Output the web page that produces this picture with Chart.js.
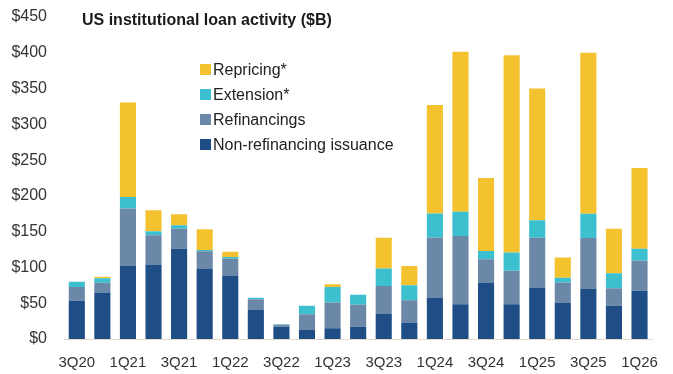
<!DOCTYPE html>
<html>
<head>
<meta charset="utf-8">
<script src="https://cdn.jsdelivr.net/npm/chart.js@4/dist/chart.umd.min.js"></script>
<style>
  html, body { margin: 0; padding: 0; background: #fff; }
  #wrap { width: 673px; height: 374px; position: relative; }
</style>
</head>
<body>
<div id="wrap"><canvas id="loans"></canvas></div>
<script>
const quarters = ['3Q20', '4Q20', '1Q21', '2Q21', '3Q21', '4Q21', '1Q22', '2Q22', '3Q22', '4Q22',
    '1Q23', '2Q23', '3Q23', '4Q23', '1Q24', '2Q24', '3Q24', '4Q24', '1Q25', '2Q25', '3Q25', '4Q25', '1Q26'];

// $B per quarter, stacked bottom to top
const nonRefi   = [53.5, 65, 102, 104, 126, 98, 88, 40.5, 17, 12.5, 15, 17, 35, 23, 58, 48.5, 79, 48.5, 72, 51, 70, 46.5, 67.5];
const refi      = [19, 13.5, 80.5, 41, 28, 24.5, 24, 15, 3, 22, 36, 31, 39, 31, 84, 95.5, 32.5, 47, 69.5, 28, 71, 24.5, 42];
const extension = [7.5, 6.5, 16, 5.5, 5, 2, 2.5, 2, 0.5, 12, 21.5, 14, 24.5, 21, 33.5, 34, 11.5, 25.5, 24.5, 6.5, 34, 21, 16.5];
const repricing = [0, 2, 132, 29.5, 15.5, 29, 7.5, 0, 0, 0, 4, 0, 43, 27, 151.5, 223.5, 102, 275.5, 184, 28.5, 225, 62, 113];

const yTicks = [0, 50, 100, 150, 200, 250, 300, 350, 400, 450];

const FONT = '"Liberation Sans", Arial, sans-serif';

// title and legend drawn straight onto the canvas
const overlay = {
    id: 'overlay',
    afterDraw(chart) {
        const ctx = chart.ctx;
        ctx.save();
        ctx.fillStyle = '#1b1b1b';
        ctx.font = 'bold 16px ' + FONT;
        ctx.textBaseline = 'alphabetic';
        ctx.textAlign = 'left';
        ctx.fillText('US institutional loan activity ($B)', 82, 25);

        ctx.font = '16px ' + FONT;
        const sets = chart.data.datasets.slice().reverse();
        sets.forEach((ds, i) => {
            const base = 75 + i * 25;
            ctx.fillStyle = ds.backgroundColor;
            ctx.fillRect(200, base - 11, 11, 11);
            ctx.fillStyle = '#222';
            ctx.fillText(ds.label, 213, base);
        });
        ctx.restore();
    }
};

const ctx = document.getElementById('loans').getContext('2d');
const loanChart = new Chart(ctx, {
    type: 'bar',
    data: {
        labels: quarters,
        datasets: [
            { label: 'Non-refinancing issuance', data: nonRefi, backgroundColor: '#1f4e87' },
            { label: 'Refinancings', data: refi, backgroundColor: '#6c88a8' },
            { label: 'Extension*', data: extension, backgroundColor: '#3cc0d0' },
            { label: 'Repricing*', data: repricing, backgroundColor: '#f4c22f' }
        ]
    },
    options: {
        responsive: true,
        maintainAspectRatio: false,
        animation: false,
        layout: { padding: { top: 17, right: 6, bottom: 2, left: 0 } },
        datasets: {
            bar: { categoryPercentage: 1, barPercentage: 0.63, borderWidth: 0 }
        },
        plugins: {
            legend: { display: false },
            tooltip: { enabled: false }
        },
        scales: {
            x: {
                stacked: true,
                afterFit(scale) { scale.height = 33; },
                grid: { display: false, drawTicks: false },
                border: { display: true, color: '#e2d9c8', width: 1 },
                ticks: {
                    autoSkip: false,
                    maxRotation: 0,
                    padding: 15,
                    color: '#333',
                    font: { family: FONT, size: 15 },
                    callback: (v, i) => (i % 2 === 0 ? quarters[i] : '')
                }
            },
            y: {
                stacked: true,
                min: 0,
                max: 450,
                afterFit(scale) {
                    scale.width = 64;
                    scale.paddingTop = 0;
                    scale.paddingBottom = 0;
                },
                afterBuildTicks(scale) { scale.ticks = yTicks.map(v => ({ value: v })); },
                grid: { display: false, drawTicks: false },
                border: { display: false },
                ticks: {
                    padding: 17,
                    color: '#333',
                    font: { family: FONT, size: 16 },
                    callback: v => '$' + v
                }
            }
        }
    },
    plugins: [overlay]
});
</script>
</body>
</html>
